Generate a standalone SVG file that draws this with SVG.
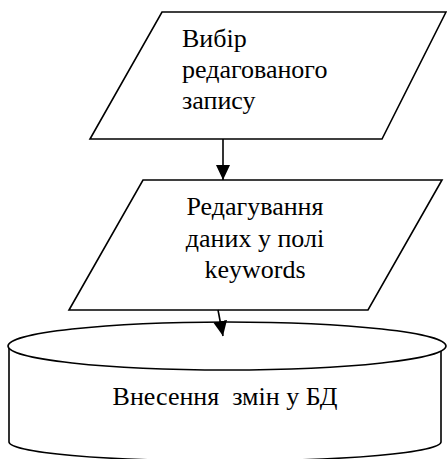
<svg xmlns="http://www.w3.org/2000/svg" width="447" height="459" viewBox="0 0 447 459">
  <style>
    .shape { fill: #ffffff; stroke: #000000; stroke-width: 1.6; stroke-linejoin: miter; }
    .label { font-size: 26px; fill: #000000; }
    .mid { text-anchor: middle; }
    .edge { fill: none; stroke: #000000; stroke-width: 1.6; }
  </style>
  <defs>
    <marker id="arrow" viewBox="0 0 15 14" refX="15" refY="7" markerWidth="15" markerHeight="14" markerUnits="userSpaceOnUse" orient="auto">
      <path d="M0,0 L15,7 L0,14 Z" fill="#000000"/>
    </marker>
  </defs>
  <rect width="447" height="459" fill="#ffffff"/>

  <g font-family="'Liberation Serif', 'Times New Roman', 'DejaVu Serif', serif">
    <!-- Step 1: pick the record to edit -->
    <g id="node-select">
      <polygon class="shape" points="162,12 446,12 382,139 90,139"/>
      <text class="label" x="182" y="47">Вибір</text>
      <text class="label" x="182" y="78">редагованого</text>
      <text class="label" x="182" y="109">запису</text>
    </g>

    <!-- Step 2: edit the keywords field -->
    <g id="node-edit">
      <polygon class="shape" points="143,180 442,180 368,310 69,310"/>
      <text class="label mid" x="255" y="215">Редагування</text>
      <text class="label mid" x="255" y="247">даних у полі</text>
      <text class="label mid" x="255" y="278">keywords</text>
    </g>

    <!-- Step 3: database store -->
    <g id="node-db">
      <path class="shape" d="M9,346 L9,442 A216,19 0 0,0 441,442 L441,346 Z"/>
      <ellipse class="shape" cx="227" cy="346" rx="219" ry="24"/>
      <text class="label mid" x="225" y="405" xml:space="preserve">Внесення  змін у БД</text>
    </g>
  </g>

  <!-- Connectors -->
  <g id="connectors">
    <line class="edge" x1="223" y1="139" x2="223" y2="180" marker-end="url(#arrow)"/>
    <line class="edge" x1="218" y1="310" x2="223" y2="336" marker-end="url(#arrow)"/>
  </g>
</svg>
